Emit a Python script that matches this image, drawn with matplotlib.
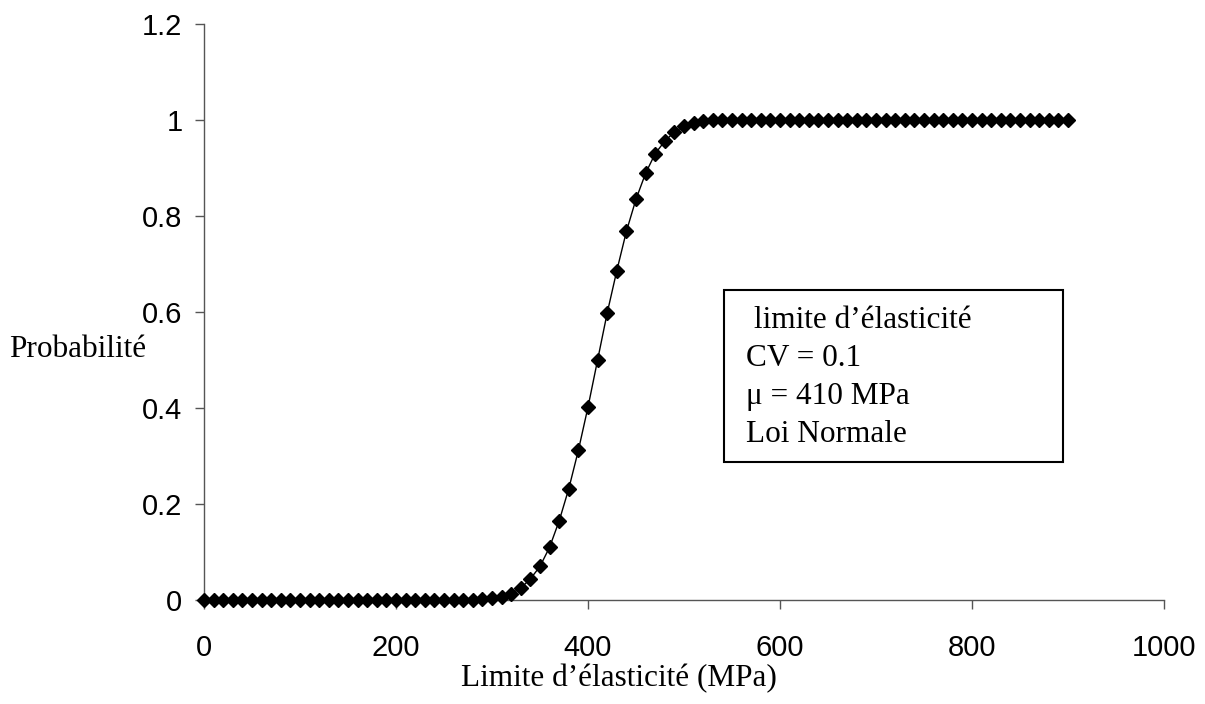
import numpy as np
import matplotlib.pyplot as plt
from matplotlib.patches import Rectangle

# Limite d'elasticite (MPa), un point tous les 10 MPa
limite = np.arange(0, 910, 10)

# Probabilite cumulee
proba = [
    0.0, 0.0, 0.0, 0.0, 0.0, 0.0, 0.0, 0.0, 0.0, 0.0,          # 0 - 90
    0.0, 0.0, 0.0, 0.0, 0.0, 0.0, 0.0, 0.0, 0.0, 0.0,          # 100 - 190
    0.0, 0.0, 0.0, 0.0, 0.0, 0.0, 0.0, 0.0, 0.001, 0.002,      # 200 - 290
    0.004, 0.007, 0.013, 0.025, 0.044, 0.070, 0.110, 0.165, 0.232, 0.312,  # 300 - 390
    0.402, 0.500, 0.598, 0.686, 0.768, 0.835, 0.889, 0.930, 0.956, 0.975,  # 400 - 490
    0.987, 0.993, 0.997, 0.999, 1.0, 1.0, 1.0, 1.0, 1.0, 1.0,  # 500 - 590
    1.0, 1.0, 1.0, 1.0, 1.0, 1.0, 1.0, 1.0, 1.0, 1.0,          # 600 - 690
    1.0, 1.0, 1.0, 1.0, 1.0, 1.0, 1.0, 1.0, 1.0, 1.0,          # 700 - 790
    1.0, 1.0, 1.0, 1.0, 1.0, 1.0, 1.0, 1.0, 1.0, 1.0,          # 800 - 890
    1.0,                                                       # 900
]

xticks = [0, 200, 400, 600, 800, 1000]
yticks = [0, 0.2, 0.4, 0.6, 0.8, 1.0, 1.2]
yticklabels = ["0", "0.2", "0.4", "0.6", "0.8", "1", "1.2"]

legende = [" limite d\u2019\u00e9lasticit\u00e9", "CV = 0.1", "\u03bc = 410 MPa", "Loi Normale"]

serif = "Liberation Serif"
sans = "Liberation Sans"
W, H = 1205, 704

fig = plt.figure(figsize=(12.05, 7.04), dpi=100)
ax = fig.add_axes([204 / W, 1 - 600 / H, 960 / W, 576 / H])

ax.plot(limite, proba, color="black", linewidth=1.0, marker="D", markersize=7.5,
        markerfacecolor="black", markeredgecolor="black", clip_on=False, zorder=3)

ax.set_xlim(0, 1000)
ax.set_ylim(0, 1.2)
ax.set_xticks(xticks)
ax.set_yticks(yticks)
ax.set_yticklabels(yticklabels)
for lab in ax.get_xticklabels() + ax.get_yticklabels():
    lab.set_fontfamily(sans)
    lab.set_fontsize(21)

ax.spines["top"].set_visible(False)
ax.spines["right"].set_visible(False)
for s in ["left", "bottom"]:
    ax.spines[s].set_color("#555555")
    ax.spines[s].set_linewidth(1.0)
ax.tick_params(axis="y", direction="out", length=6.5, width=1, color="#555555", pad=9)
ax.tick_params(axis="x", direction="out", length=6.5, width=1, color="#555555", pad=18)

fig.text(619 / W, 1 - 686 / H, "Limite d\u2019\u00e9lasticit\u00e9 (MPa)",
         family=serif, fontsize=22.5, ha="center", va="baseline")
fig.text(9 / W, 1 - 357 / H, "Probabilit\u00e9",
         family=serif, fontsize=22.5, ha="left", va="baseline")

# encadre de legende
fig.patches.append(Rectangle((724 / W, 1 - 462 / H), 339 / W, 172 / H,
                             transform=fig.transFigure, fill=False,
                             edgecolor="black", linewidth=1.5))
lignes_y = [328, 366, 404, 442]
for txt, yy in zip(legende, lignes_y):
    fig.text(746 / W, 1 - yy / H, txt, family=serif, fontsize=22.5,
             ha="left", va="baseline")

fig.savefig("out.png", dpi=100)
